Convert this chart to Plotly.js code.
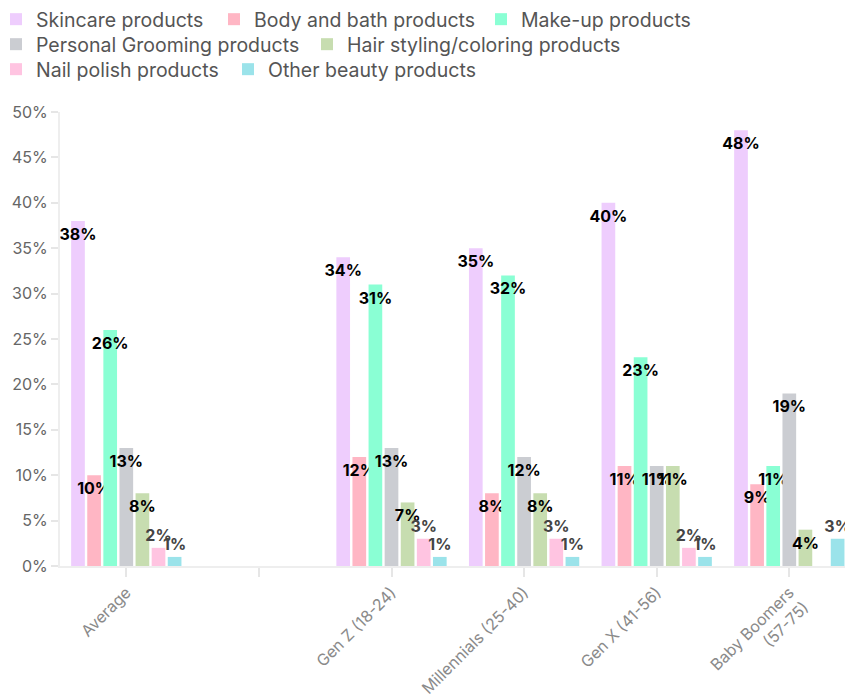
<!DOCTYPE html>
<html>
<head>
<meta charset="utf-8">
<script src="https://cdn.plot.ly/plotly-3.0.1.min.js"></script>
<style>
  html, body { margin: 0; padding: 0; background: #ffffff; overflow: hidden; }
  #chart { width: 845px; height: 700px; }
</style>
</head>
<body>
<div id="chart"></div>
<script>
// Categories (a blank spacer category sits between "Average" and the generations)
const categories = ["Average", " ", "Gen Z (18-24)", "Millennials (25-40)", "Gen X (41-56)", "Baby Boomers<br>(57-75)"];

// Series values (percent)
const skincare    = [38, null, 34, 35, 40, 48];
const bodyBath    = [10, null, 12, 8, 11, 9];
const makeUp      = [26, null, 31, 32, 23, 11];
const grooming    = [13, null, 13, 12, 11, 19];
const hairStyle   = [8, null, 7, 8, 11, 4];
const nailPolish  = [2, null, 3, 3, 2, null];
const otherBeauty = [1, null, 1, 1, 1, 3];

const seriesNames = [
  "Skincare products", "Body and bath products", "Make-up products",
  "Personal Grooming products", "Hair styling/coloring products",
  "Nail polish products", "Other beauty products"
];
const seriesValues = [skincare, bodyBath, makeUp, grooming, hairStyle, nailPolish, otherBeauty];

// Styling (kept apart from the data)
const seriesColors = ["#EECDFD", "#FFB6C4", "#8AFFD4", "#CBCDD2", "#C7DDB0", "#FFC4E1", "#9BE3EA"];
const legendRows   = ["legend", "legend", "legend", "legend2", "legend2", "legend3", "legend3"];
const legendWidths = [177, 226, null, 270, null, 191, null];

const FONT = "Inter, 'Noto Sans', sans-serif";

const traces = seriesValues.map((vals, i) => {
  const t = {
    type: "bar",
    name: seriesNames[i],
    legend: legendRows[i],
    x: categories,
    y: vals,
    text: vals.map(v => (v === null ? "" : v + "%")),
    marker: { color: seriesColors[i], line: { width: 0 } },
    textposition: vals.map(v => (v !== null && v >= 4) ? "inside" : "outside"),
    insidetextanchor: "end",
    textangle: 0,
    constraintext: "none",
    cliponaxis: false,
    insidetextfont: { family: FONT, size: 16, color: "#000000", weight: 700 },
    outsidetextfont: { family: FONT, size: 16, color: "#444444", weight: 700 },
    hoverinfo: "skip"
  };
  if (legendWidths[i]) t.legendwidth = legendWidths[i];
  return t;
});

const legendBase = {
  orientation: "h",
  xref: "container",
  yref: "container",
  x: 0,
  xanchor: "left",
  yanchor: "top",
  indentation: -4,
  font: { family: FONT, size: 19.5, color: "#555555" },
  traceorder: "normal",
  bgcolor: "rgba(0,0,0,0)"
};

const layout = {
  width: 845,
  height: 700,
  margin: { l: 60, r: 0, t: 112, b: 134 },
  paper_bgcolor: "#ffffff",
  plot_bgcolor: "#ffffff",
  font: { family: FONT, color: "#555555" },
  barmode: "group",
  bargap: 0.15,
  bargroupgap: 0.15,
  showlegend: true,
  legend:  Object.assign({}, legendBase, { y: 1 }),
  legend2: Object.assign({}, legendBase, { y: 1 - 25 / 700 }),
  legend3: Object.assign({}, legendBase, { y: 1 - 50 / 700 }),
  xaxis: {
    type: "category",
    categoryorder: "array",
    categoryarray: categories,
    range: [-0.5, 5.42],
    showline: true,
    linecolor: "#eeeeee",
    linewidth: 2,
    ticks: "outside",
    ticklen: 9,
    tickwidth: 2,
    tickcolor: "#e6e6e6",
    tickangle: -45,
    tickfont: { family: FONT, size: 16, color: "#8a8a8a" },
    showgrid: false,
    zeroline: false,
    fixedrange: true
  },
  yaxis: {
    range: [0, 50],
    dtick: 5,
    ticksuffix: "%",
    showline: true,
    linecolor: "#eeeeee",
    linewidth: 2,
    ticks: "outside",
    ticklen: 7,
    tickwidth: 2,
    tickcolor: "#e6e6e6",
    tickfont: { family: FONT, size: 16, color: "#666666" },
    showgrid: false,
    zeroline: false,
    fixedrange: true
  }
};

Plotly.newPlot("chart", traces, layout, { displayModeBar: false, staticPlot: true });
</script>
</body>
</html>
